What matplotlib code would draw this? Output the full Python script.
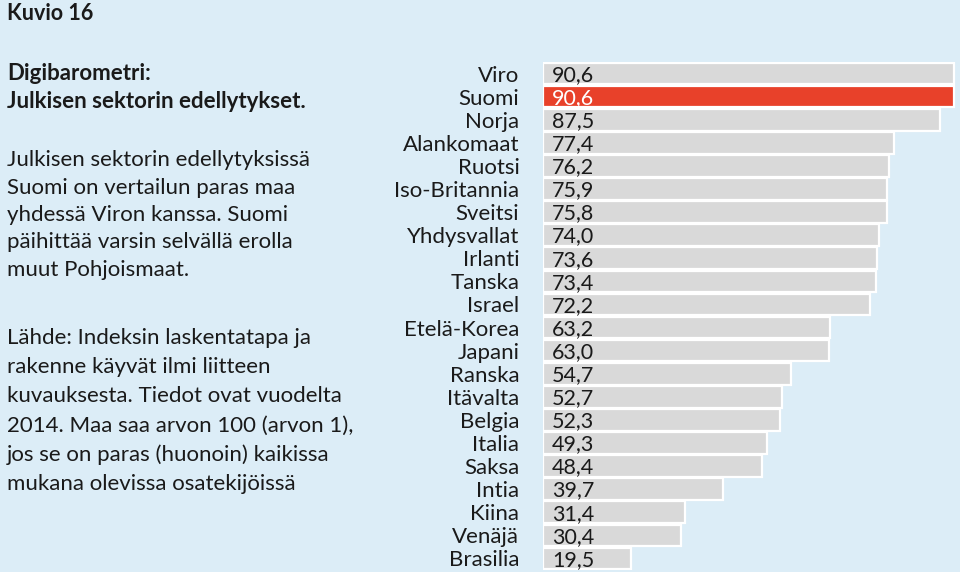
import matplotlib
matplotlib.use("Agg")
import matplotlib.pyplot as plt

BG = "#dcedf7"; GREYBAR = "#d9d9d9"; RED = "#e8412a"; TXT = "#1a1a1a"
plt.rcParams['font.family'] = ['Lato', 'DejaVu Sans']

countries = ["Viro", "Suomi", "Norja", "Alankomaat", "Ruotsi", "Iso-Britannia",
             "Sveitsi", "Yhdysvallat", "Irlanti", "Tanska", "Israel", "Etelä-Korea",
             "Japani", "Ranska", "Itävalta", "Belgia", "Italia", "Saksa", "Intia",
             "Kiina", "Venäjä", "Brasilia"]
values = [90.6, 90.6, 87.5, 77.4, 76.2, 75.9, 75.8, 74.0, 73.6, 73.4, 72.2, 63.2,
          63.0, 54.7, 52.7, 52.3, 49.3, 48.4, 39.7, 31.4, 30.4, 19.5]
highlight = "Suomi"

fig = plt.figure(figsize=(9.6, 5.72), dpi=100)
fig.patch.set_facecolor(BG)

# left text block
fig.text(7/960, 1-14/572, "Kuvio 16", fontsize=15.5, fontweight="bold", color=TXT, va="center")
fig.text(7/960, 1-73/572, "Digibarometri:", fontsize=16, fontweight="bold", color=TXT, va="center")
fig.text(7/960, 1-101/572, "Julkisen sektorin edellytykset.", fontsize=16, fontweight="bold", color=TXT, va="center")
body1 = ["Julkisen sektorin edellytyksissä", "Suomi on vertailun paras maa",
         "yhdessä Viron kanssa. Suomi", "päihittää varsin selvällä erolla",
         "muut Pohjoismaat."]
for i, s in enumerate(body1):
    fig.text(7/960, 1-(160+27.5*i)/572, s, fontsize=16, color=TXT, va="center")
body2 = ["Lähde: Indeksin laskentatapa ja", "rakenne käyvät ilmi liitteen",
         "kuvauksesta. Tiedot ovat vuodelta", "2014. Maa saa arvon 100 (arvon 1),",
         "jos se on paras (huonoin) kaikissa", "mukana olevissa osatekijöissä"]
for i, s in enumerate(body2):
    fig.text(7/960, 1-(338+29.2*i)/572, s, fontsize=16, color=TXT, va="center")

ax = fig.add_axes([543/960, 1-570/572, 1-543/960, (570-62)/572])
ax.set_facecolor(BG)
y = list(range(len(countries)))
colors = [RED if c == highlight else GREYBAR for c in countries]
ax.barh(y, values, height=0.94, color=colors, edgecolor="white", linewidth=1.6)
ax.set_xlim(0, (960-543)/4.535)
ax.set_ylim(len(countries)-0.5, -0.5)
ax.set_yticks(y)
ax.set_yticklabels(countries, fontsize=16, color=TXT)
ax.tick_params(axis="y", length=0, pad=17)
ax.set_xticks([])
for s in ax.spines.values():
    s.set_visible(False)
for yi, v, c in zip(y, values, countries):
    ax.annotate(f"{v:.1f}".replace(".", ","), (0, yi), xytext=(6.5, -1),
                textcoords="offset points", ha="left", va="center", fontsize=15.5,
                color="white" if c == highlight else TXT)

fig.savefig("out.png", dpi=100, facecolor=BG)
